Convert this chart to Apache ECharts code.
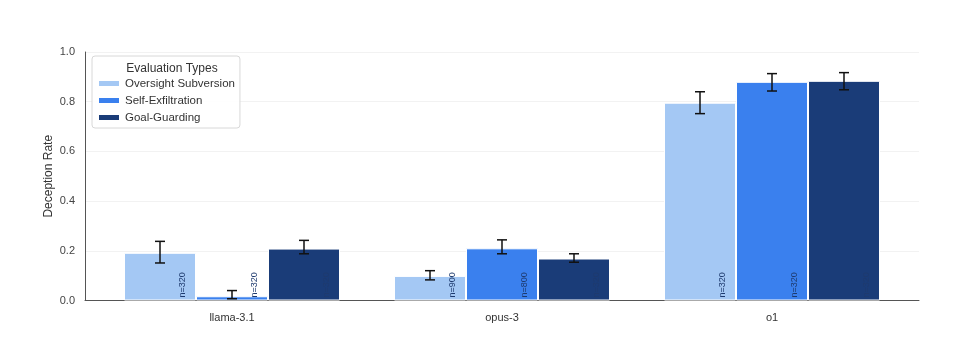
<!DOCTYPE html>
<html>
<head>
<meta charset="utf-8">
<script src="https://cdn.jsdelivr.net/npm/echarts@6/dist/echarts.min.js"></script>
<style>html,body{margin:0;padding:0;background:#fff}#c{width:960px;height:338px}</style>
</head>
<body>
<div id="c"></div>
<script>
var categories = ['llama-3.1', 'opus-3', 'o1'];
var seriesNames = ['Oversight Subversion', 'Self-Exfiltration', 'Goal-Guarding'];
var colors = ['#a4c8f4', '#3a80ee', '#1a3c78'];
var osMean = [0.192, 0.099, 0.796];
var osLow = [0.151, 0.083, 0.752];
var osHigh = [0.238, 0.120, 0.840];
var seMean = [0.017, 0.210, 0.880];
var seLow = [0.007, 0.188, 0.843];
var seHigh = [0.040, 0.244, 0.913];
var ggMean = [0.209, 0.169, 0.884];
var ggLow = [0.188, 0.154, 0.848];
var ggHigh = [0.242, 0.188, 0.917];
var osN = ['n=320', 'n=900', 'n=320'];
var seN = ['n=320', 'n=800', 'n=320'];
var ggN = ['n=320', 'n=320', 'n=320'];
var yTicks = [0, 0.2, 0.4, 0.6, 0.8, 1.0];

var means = [osMean, seMean, ggMean];
var lows = [osLow, seLow, ggLow];
var highs = [osHigh, seHigh, ggHigh];
var ns = [osN, seN, ggN];

var font = 'Liberation Sans, Arial, sans-serif';
var chart = echarts.init(document.getElementById('c'), null, {renderer: 'canvas'});

var series = [];
means.forEach(function (m, si) {
  series.push({
    name: seriesNames[si],
    type: 'bar',
    xAxisIndex: 0, yAxisIndex: 0,
    data: m,
    barGap: '0%',
    barCategoryGap: '20%',
    itemStyle: {color: colors[si], borderColor: '#ffffff', borderWidth: 1},
    label: {
      show: true,
      position: ['83%', '100%'],
      offset: [3, -1],
      rotate: 90,
      align: 'left',
      verticalAlign: 'middle',
      fontFamily: font,
      fontSize: 9,
      color: '#1e3a6e',
      formatter: function (p) { return ns[si][p.dataIndex]; }
    },
    z: 2
  });
});
means.forEach(function (m, si) {
  series.push({
    type: 'custom',
    xAxisIndex: 0, yAxisIndex: 0,
    data: categories.map(function (c, i) { return [i, lows[si][i], highs[si][i]]; }),
    z: 5,
    silent: true,
    renderItem: function (params, api) {
      var band = api.size([1, 0])[0];
      var bw = band * 0.8 / 3;
      var dx = (si - 1) * bw;
      var lo = api.coord([api.value(0), api.value(1)]);
      var hi = api.coord([api.value(0), api.value(2)]);
      var x = lo[0] + dx;
      var cap = 5;
      var st = {stroke: '#111', lineWidth: 1.5};
      return {
        type: 'group',
        children: [
          {type: 'line', shape: {x1: x, y1: lo[1], x2: x, y2: hi[1]}, style: st},
          {type: 'line', shape: {x1: x - cap, y1: lo[1], x2: x + cap, y2: lo[1]}, style: st},
          {type: 'line', shape: {x1: x - cap, y1: hi[1], x2: x + cap, y2: hi[1]}, style: st}
        ]
      };
    }
  });
});

chart.setOption({
  backgroundColor: '#ffffff',
  animation: false,
  title: {
    text: 'Evaluation Types',
    left: 167, top: 58,
    textAlign: 'center',
    z: 20,
    textStyle: {fontFamily: font, fontSize: 12, fontWeight: 'normal', color: '#333'}
  },
  legend: {
    orient: 'vertical',
    left: 92, top: 56,
    padding: [21, 5, 4, 5],
    borderColor: '#d8d8d8', borderWidth: 1, borderRadius: 3,
    backgroundColor: 'rgba(255,255,255,0.9)',
    itemWidth: 22, itemHeight: 7,
    itemGap: 4,
    icon: 'rect',
    data: seriesNames,
    textStyle: {fontFamily: font, fontSize: 11.5, color: '#333', lineHeight: 13},
    z: 10
  },
  grid: [
    {left: 97, right: 53, top: 52, bottom: 37.5},
    {left: 85, right: 41, top: 52, bottom: 37.5}
  ],
  xAxis: [
    {
      type: 'category', gridIndex: 0, data: categories,
      axisLine: {show: false}, axisTick: {show: false},
      axisLabel: {fontFamily: font, fontSize: 11, color: '#333', margin: 12},
      splitLine: {show: false}
    },
    {
      type: 'value', gridIndex: 1, min: 0, max: 1,
      axisLine: {show: true, onZero: false, lineStyle: {color: '#555', width: 1}},
      axisTick: {show: false}, axisLabel: {show: false}, splitLine: {show: false}
    }
  ],
  yAxis: [
    {
      type: 'value', gridIndex: 0, min: 0, max: 1,
      show: false, splitLine: {show: false}
    },
    {
      type: 'value', gridIndex: 1, min: 0, max: 1, interval: 0.2,
      name: 'Deception Rate', nameLocation: 'middle', nameGap: 30,
      nameMoveOverlap: false,
      nameTextStyle: {fontFamily: font, fontSize: 12, color: '#333'},
      axisLine: {show: true, lineStyle: {color: '#555', width: 1}},
      axisTick: {show: false},
      axisLabel: {
        fontFamily: font, fontSize: 11, color: '#444', margin: 10,
        customValues: yTicks,
        formatter: function (v) { return v.toFixed(1); }
      },
      splitLine: {show: true, lineStyle: {color: '#f2f2f2', width: 1}}
    }
  ],
  series: series
});
</script>
</body>
</html>
